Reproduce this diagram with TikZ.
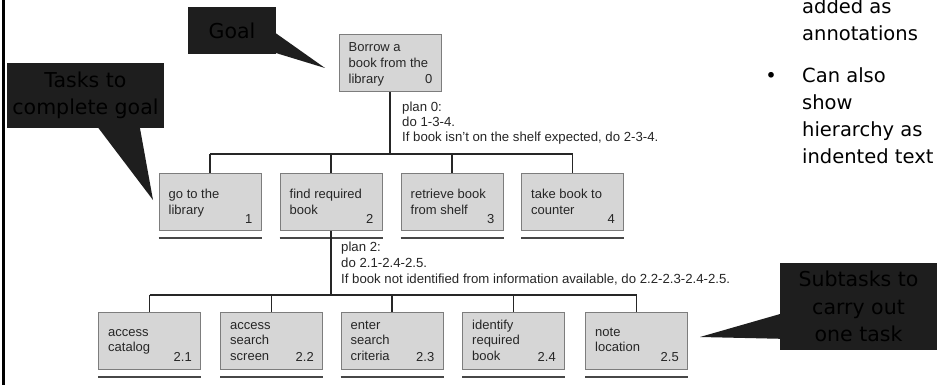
\documentclass[tikz,border=0pt]{standalone}
\usepackage{fontspec}
\setmainfont{Liberation Sans}
\newfontfamily\dvfont{DejaVu Sans}
\usetikzlibrary{calc}
\definecolor{boxfill}{RGB}{214,214,214}
\definecolor{boxline}{RGB}{125,125,125}
\definecolor{ink}{RGB}{38,38,38}
\definecolor{callout}{RGB}{30,30,30}
\tikzset{
 taskbox/.style={draw=boxline, line width=1pt, fill=boxfill, minimum width=102pt, minimum height=57pt, inner sep=0pt},
 tline/.style={anchor=base west, inner sep=0pt, text=ink, font=\fontsize{13}{16}\selectfont},
 tnum/.style={anchor=base east, inner sep=0pt, text=ink, font=\fontsize{13}{16}\selectfont},
 plantext/.style={anchor=base west, inner sep=0pt, text=ink, font=\fontsize{13.2}{16}\selectfont},
 conn/.style={draw=ink, line width=1.3pt},
 uline/.style={draw=ink!85, line width=2pt},
 callbox/.style={fill=callout, inner sep=0pt, text=black, align=center, font=\dvfont\fontsize{20.5}{27.5}\selectfont},
 note/.style={anchor=base west, inner sep=0pt, text=black, font=\dvfont\fontsize{19.5}{27}\selectfont},
}
\newcommand\tl[4]{\node[tline] (#1) at ($(#2.north west)+(10,#3)$) {#4};}
\newcommand\tn[4]{\node[tnum] (#1) at ($(#2.north east)+(-9,#3)$) {#4};}
\newcommand\ul[1]{\draw[uline] ($(#1.south west)+(0,6.5)$) -- ($(#1.south east)+(0,6.5)$);}
\begin{document}
\begin{tikzpicture}[x=1pt,y=-1pt]
\useasboundingbox (0,0) rectangle (937,385);
\fill[white] (0,0) rectangle (937,385);
% left border
\draw[line width=3pt, black] (3.5,0) -- (3.5,385);

% ---- goal box
\node[taskbox] (g0) at (390,63.5) {};
\tl{g0a}{g0}{17.5}{Borrow a}
\tl{g0b}{g0}{33.5}{book from the}
\tl{g0c}{g0}{49.5}{library}
\tn{g0n}{g0}{49.5}{0}

% ---- level 1
\node[taskbox] (b1) at (210,202) {};
\node[taskbox] (b2) at (331,202) {};
\node[taskbox] (b3) at (452,202) {};
\node[taskbox] (b4) at (572.5,202) {};
\tl{b1a}{b1}{25.3}{go to the}
\tl{b1b}{b1}{41}{library}
\tn{b1n}{b1}{50.3}{1}
\tl{b2a}{b2}{25.3}{find required}
\tl{b2b}{b2}{41}{book}
\tn{b2n}{b2}{50.3}{2}
\tl{b3a}{b3}{25.3}{retrieve book}
\tl{b3b}{b3}{41}{from shelf}
\tn{b3n}{b3}{50.3}{3}
\tl{b4a}{b4}{25.3}{take book to}
\tl{b4b}{b4}{41}{counter}
\tn{b4n}{b4}{50.3}{4}
\ul{b1}\ul{b2}\ul{b3}\ul{b4}

% ---- level 2
\node[taskbox] (c1) at (149.5,341) {};
\node[taskbox] (c2) at (271.5,341) {};
\node[taskbox] (c3) at (392,341) {};
\node[taskbox] (c4) at (513.5,341) {};
\node[taskbox] (c5) at (636.5,341) {};
\tl{c1a}{c1}{24.3}{access}
\tl{c1b}{c1}{39.7}{catalog}
\tn{c1n}{c1}{49.7}{2.1}
\tl{c2a}{c2}{17}{access}
\tl{c2b}{c2}{32.7}{search}
\tl{c2c}{c2}{48.7}{screen}
\tn{c2n}{c2}{49.2}{2.2}
\tl{c3a}{c3}{17}{enter}
\tl{c3b}{c3}{32.7}{search}
\tl{c3c}{c3}{48.7}{criteria}
\tn{c3n}{c3}{49.2}{2.3}
\tl{c4a}{c4}{17}{identify}
\tl{c4b}{c4}{32.7}{required}
\tl{c4c}{c4}{48.7}{book}
\tn{c4n}{c4}{49.2}{2.4}
\tl{c5a}{c5}{24.3}{note}
\tl{c5b}{c5}{39.7}{location}
\tn{c5n}{c5}{49.7}{2.5}
\ul{c1}\ul{c2}\ul{c3}\ul{c4}\ul{c5}

% ---- connectors
\coordinate (bar0) at (390,154);
\draw[conn] (g0.south) -- (g0.south |- bar0);
\draw[conn] (b1.north |- bar0) -- (b4.north |- bar0);
\foreach \b in {b1,b2,b3,b4}{\draw[conn] (\b.north |- bar0) -- (\b.north);}
\coordinate (bar2) at (331,295);
\draw[conn] (b2.south) -- (b2.south |- bar2);
\draw[conn] (c1.north |- bar2) -- (c5.north |- bar2);
\foreach \c in {c1,c2,c3,c4,c5}{\draw[conn] (\c.north |- bar2) -- (\c.north);}

% ---- plans
\node[plantext] (p0a) at (402,111.5) {plan 0:};
\node[plantext] (p0b) at (402,126.5) {do 1-3-4.};
\node[plantext] (p0c) at (402,141.5) {If book isn't on the shelf expected, do 2-3-4.};
\node[plantext] (p2a) at (341,251.5) {plan 2:};
\node[plantext] (p2b) at (341,267.5) {do 2.1-2.4-2.5.};
\node[plantext] (p2c) at (341,283.5) {If book not identified from information available, do 2.2-2.3-2.4-2.5.};

% ---- callouts
\node[callbox, minimum width=88pt, minimum height=47pt] (goal) at (232,30.5) {Goal};
\coordinate (goaltip) at (325,68);
\fill[callout] ($(goal.north east)+(-1,26)$) -- (goaltip) -- ($(goal.north east)+(-1,46)$) -- cycle;

\node[callbox, minimum width=157pt, minimum height=65pt] (tasks) at (85.5,95.5) {Tasks to\\complete goal};
\coordinate (taskstip) at (153,200);
\fill[callout] ($(tasks.south west)+(91,-1)$) -- (taskstip) -- ($(tasks.south west)+(133,-1)$) -- cycle;

\node[callbox, minimum width=157pt, minimum height=87pt] (sub) at (858.5,306.5) {Subtasks to\\carry out\\one task};
\coordinate (subtip) at (700,337);
\fill[callout] ($(sub.north west)+(1,51)$) -- (subtip) -- ($(sub.north west)+(1,76)$) -- cycle;

% ---- notes
\node[note] (n1) at (802,14) {added as};
\node[note] (n2) at (802,41) {annotations};
\node[note, anchor=base] (bul) at (771,83) {•};
\node[note] (n3) at (802,83) {Can also};
\node[note] (n4) at (802,110) {show};
\node[note] (n5) at (802,137) {hierarchy as};
\node[note] (n6) at (802,164) {indented text};
\end{tikzpicture}
\end{document}
